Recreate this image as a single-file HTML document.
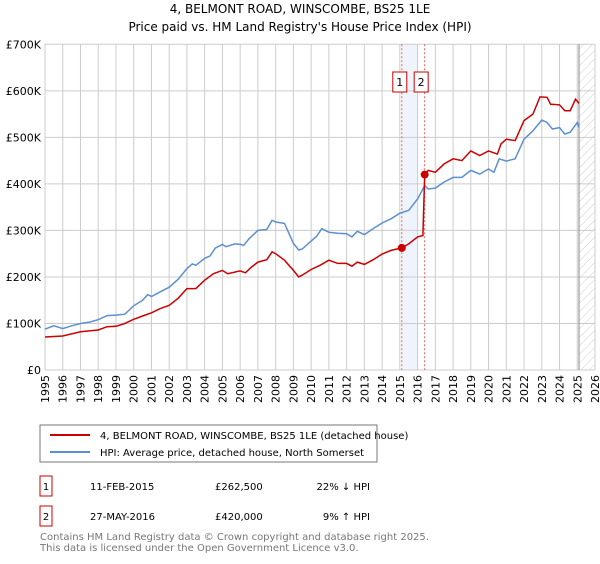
<!DOCTYPE html>
<html><head><meta charset="utf-8"><style>
body{margin:0;background:#fff;width:600px;height:560px;overflow:hidden;font-family:"DejaVu Sans","Liberation Sans",sans-serif}
svg text{font-family:"DejaVu Sans","Liberation Sans",sans-serif}
</style></head><body>
<svg id="c" width="600" height="560" xmlns="http://www.w3.org/2000/svg">
<defs><pattern id="hatch" width="6" height="6" patternUnits="userSpaceOnUse" patternTransform="rotate(45)"><line x1="0" y1="0" x2="0" y2="6" stroke="#ccc" stroke-width="1"/></pattern></defs>
<text x="300" y="13" text-anchor="middle" font-size="12">4, BELMONT ROAD, WINSCOMBE, BS25 1LE</text>
<text x="300" y="31" text-anchor="middle" font-size="12">Price paid vs. HM Land Registry's House Price Index (HPI)</text>
<g id="grid"></g><g id="marks"></g>
<rect x="40" y="425" width="337" height="37" fill="#fff" stroke="#777"/>
<line x1="50" y1="435" x2="90" y2="435" stroke="#cc0000" stroke-width="2"/>
<text x="100" y="439" font-size="10">4, BELMONT ROAD, WINSCOMBE, BS25 1LE (detached house)</text>
<line x1="50" y1="452" x2="90" y2="452" stroke="#5b8fd4" stroke-width="2"/>
<text x="100" y="456" font-size="10">HPI: Average price, detached house, North Somerset</text>
<rect x="40" y="476" width="12" height="20" fill="#fff" stroke="#cc0000"/>
<text x="46" y="490" font-size="10" text-anchor="middle">1</text>
<text x="90" y="490" font-size="10">11-FEB-2015</text>
<text x="215" y="490" font-size="10">£262,500</text>
<text x="370" y="490" font-size="10" text-anchor="end">22% ↓ HPI</text>
<rect x="40" y="506" width="12" height="20" fill="#fff" stroke="#cc0000"/>
<text x="46" y="520" font-size="10" text-anchor="middle">2</text>
<text x="90" y="520" font-size="10">27-MAY-2016</text>
<text x="215" y="520" font-size="10">£420,000</text>
<text x="370" y="520" font-size="10" text-anchor="end">9% ↑ HPI</text>
<text x="40" y="540" font-size="10" fill="#777">Contains HM Land Registry data © Crown copyright and database right 2025.</text>
<text x="40" y="551" font-size="10" fill="#777">This data is licensed under the Open Government Licence v3.0.</text>
</svg>
<script>
const yTicks=[0,100,200,300,400,500,600,700];
const yTickLabels=["£0","£100K","£200K","£300K","£400K","£500K","£600K","£700K"];
const xYears=[1995,1996,1997,1998,1999,2000,2001,2002,2003,2004,2005,2006,2007,2008,2009,2010,2011,2012,2013,2014,2015,2016,2017,2018,2019,2020,2021,2022,2023,2024,2025,2026];
const hpiT=[1995,1995.5,1996,1996.5,1997,1997.5,1998,1998.5,1999,1999.5,2000,2000.5,2000.8,2001,2001.5,2002,2002.5,2003,2003.3,2003.5,2004,2004.3,2004.6,2005,2005.2,2005.7,2006,2006.2,2006.5,2007,2007.5,2007.8,2008,2008.5,2009,2009.3,2009.5,2010,2010.3,2010.6,2011,2011.5,2012,2012.3,2012.6,2013,2013.5,2014,2014.5,2015,2015.5,2016,2016.4,2016.6,2017,2017.5,2018,2018.5,2019,2019.5,2020,2020.3,2020.6,2021,2021.5,2022,2022.5,2023,2023.3,2023.6,2024,2024.3,2024.6,2025,2025.1];
const hpiV=[88,95,89,95,100,103,108,117,118,120,138,150,162,158,168,178,195,218,228,225,240,245,262,270,265,271,270,268,282,300,302,322,318,315,272,258,260,277,287,304,296,294,293,286,298,291,304,316,325,337,343,368,396,389,391,404,414,414,429,421,432,425,454,449,454,496,514,537,532,518,521,507,511,532,521];
const priceT=[1995,1996,1997,1998,1998.5,1999,1999.5,2000,2000.5,2001,2001.5,2002,2002.5,2003,2003.5,2004,2004.5,2005,2005.3,2006,2006.3,2006.6,2007,2007.5,2007.8,2008,2008.5,2009,2009.3,2009.5,2010,2010.5,2011,2011.5,2012,2012.3,2012.6,2013,2013.5,2014,2014.5,2015.11,2015.5,2016,2016.3,2016.4,2016.6,2017,2017.5,2018,2018.5,2019,2019.5,2020,2020.5,2020.7,2021,2021.5,2022,2022.5,2022.9,2023.3,2023.5,2024,2024.3,2024.6,2024.9,2025.1];
const priceV=[71,73,82,86,93,94,100,109,116,123,132,139,154,175,175,193,207,214,207,213,209,220,232,237,254,250,236,214,200,204,216,225,236,229,229,223,232,227,237,249,257,262.5,271,286,289,420,429,425,443,454,450,471,461,471,464,486,496,493,536,550,587,586,571,570,557,557,582,573];
const saleT=[2015.11,2016.4];
const saleV=[262.5,420];
const saleLabels=["1","2"];

const X0=45,X1=595,Y0=370,Y1=44.3;
const xs=t=>X0+(t-1995)/(2026-1995)*(X1-X0);
const ys=v=>Y0-v/700*(Y0-Y1);
const NS="http://www.w3.org/2000/svg";
const grid=document.getElementById('grid'),marks=document.getElementById('marks');
function mk(p,tag,a){const e=document.createElementNS(NS,tag);for(const k in a)e.setAttribute(k,a[k]);p.appendChild(e);return e;}
let band=mk(grid,'rect',{x:xs(saleT[0]),y:Y1,width:xs(2016.0)-xs(saleT[0]),height:Y0-Y1,fill:'#eef3fc'});


let hz=mk(grid,'rect',{x:xs(2025.1),y:Y1,width:X1-xs(2025.1),height:Y0-Y1,fill:'url(#hatch)'});


yTicks.forEach((v,i)=>{
  let l=mk(grid,'line',{x1:X0,x2:X1,y1:ys(v),y2:ys(v),stroke:'#ccc'});
  
  
  let t=mk(grid,'text',{x:X0-4,y:ys(v)+4,'text-anchor':'end','font-size':'11'});t.textContent=yTickLabels[i];
  
  
});
xYears.forEach(y=>{
  let l=mk(grid,'line',{x1:xs(y),x2:xs(y),y1:Y1,y2:Y0,stroke:'#ccc'});
  
  
  let t=mk(grid,'text',{x:0,y:0,'text-anchor':'end','font-size':'11',transform:`translate(${xs(y)+4},${Y0+5}) rotate(-90)`});t.textContent=y;
  
  
});
let vl=mk(grid,'line',{x1:xs(2025.1),x2:xs(2025.1),y1:Y1,y2:Y0,stroke:'#888'});


saleT.forEach((t,i)=>{
  let l=mk(grid,'line',{x1:xs(t),x2:xs(t),y1:Y1,y2:Y0,stroke:'#e06060','stroke-dasharray':'2,2'});
  
  
  let bx=xs(t)-(i==0?2:3.5);
  let r=mk(marks,'rect',{x:bx-7,y:72,width:14,height:20,fill:'#fff',stroke:'#cc0000'});
  
  
  let tx=mk(marks,'text',{x:bx,y:86,'text-anchor':'middle','font-size':'11'});tx.textContent=saleLabels[i];
  
  
});
function path(T,V,col,name){
  let d=T.map((t,i)=>(i?'L':'M')+xs(t).toFixed(1)+','+ys(V[i]).toFixed(1)).join('');
  let p=mk(marks,'path',{d:d,fill:'none',stroke:col,'stroke-width':'1.5'});
  
  
}
path(hpiT,hpiV,'#5b8fd4','hpi-line');
path(priceT,priceV,'#cc0000','price-line');
saleT.forEach((t,i)=>{
  let c=mk(marks,'circle',{cx:xs(t),cy:ys(saleV[i]),r:4,fill:'#cc0000'});
  
  
});
</script>
</body></html>
